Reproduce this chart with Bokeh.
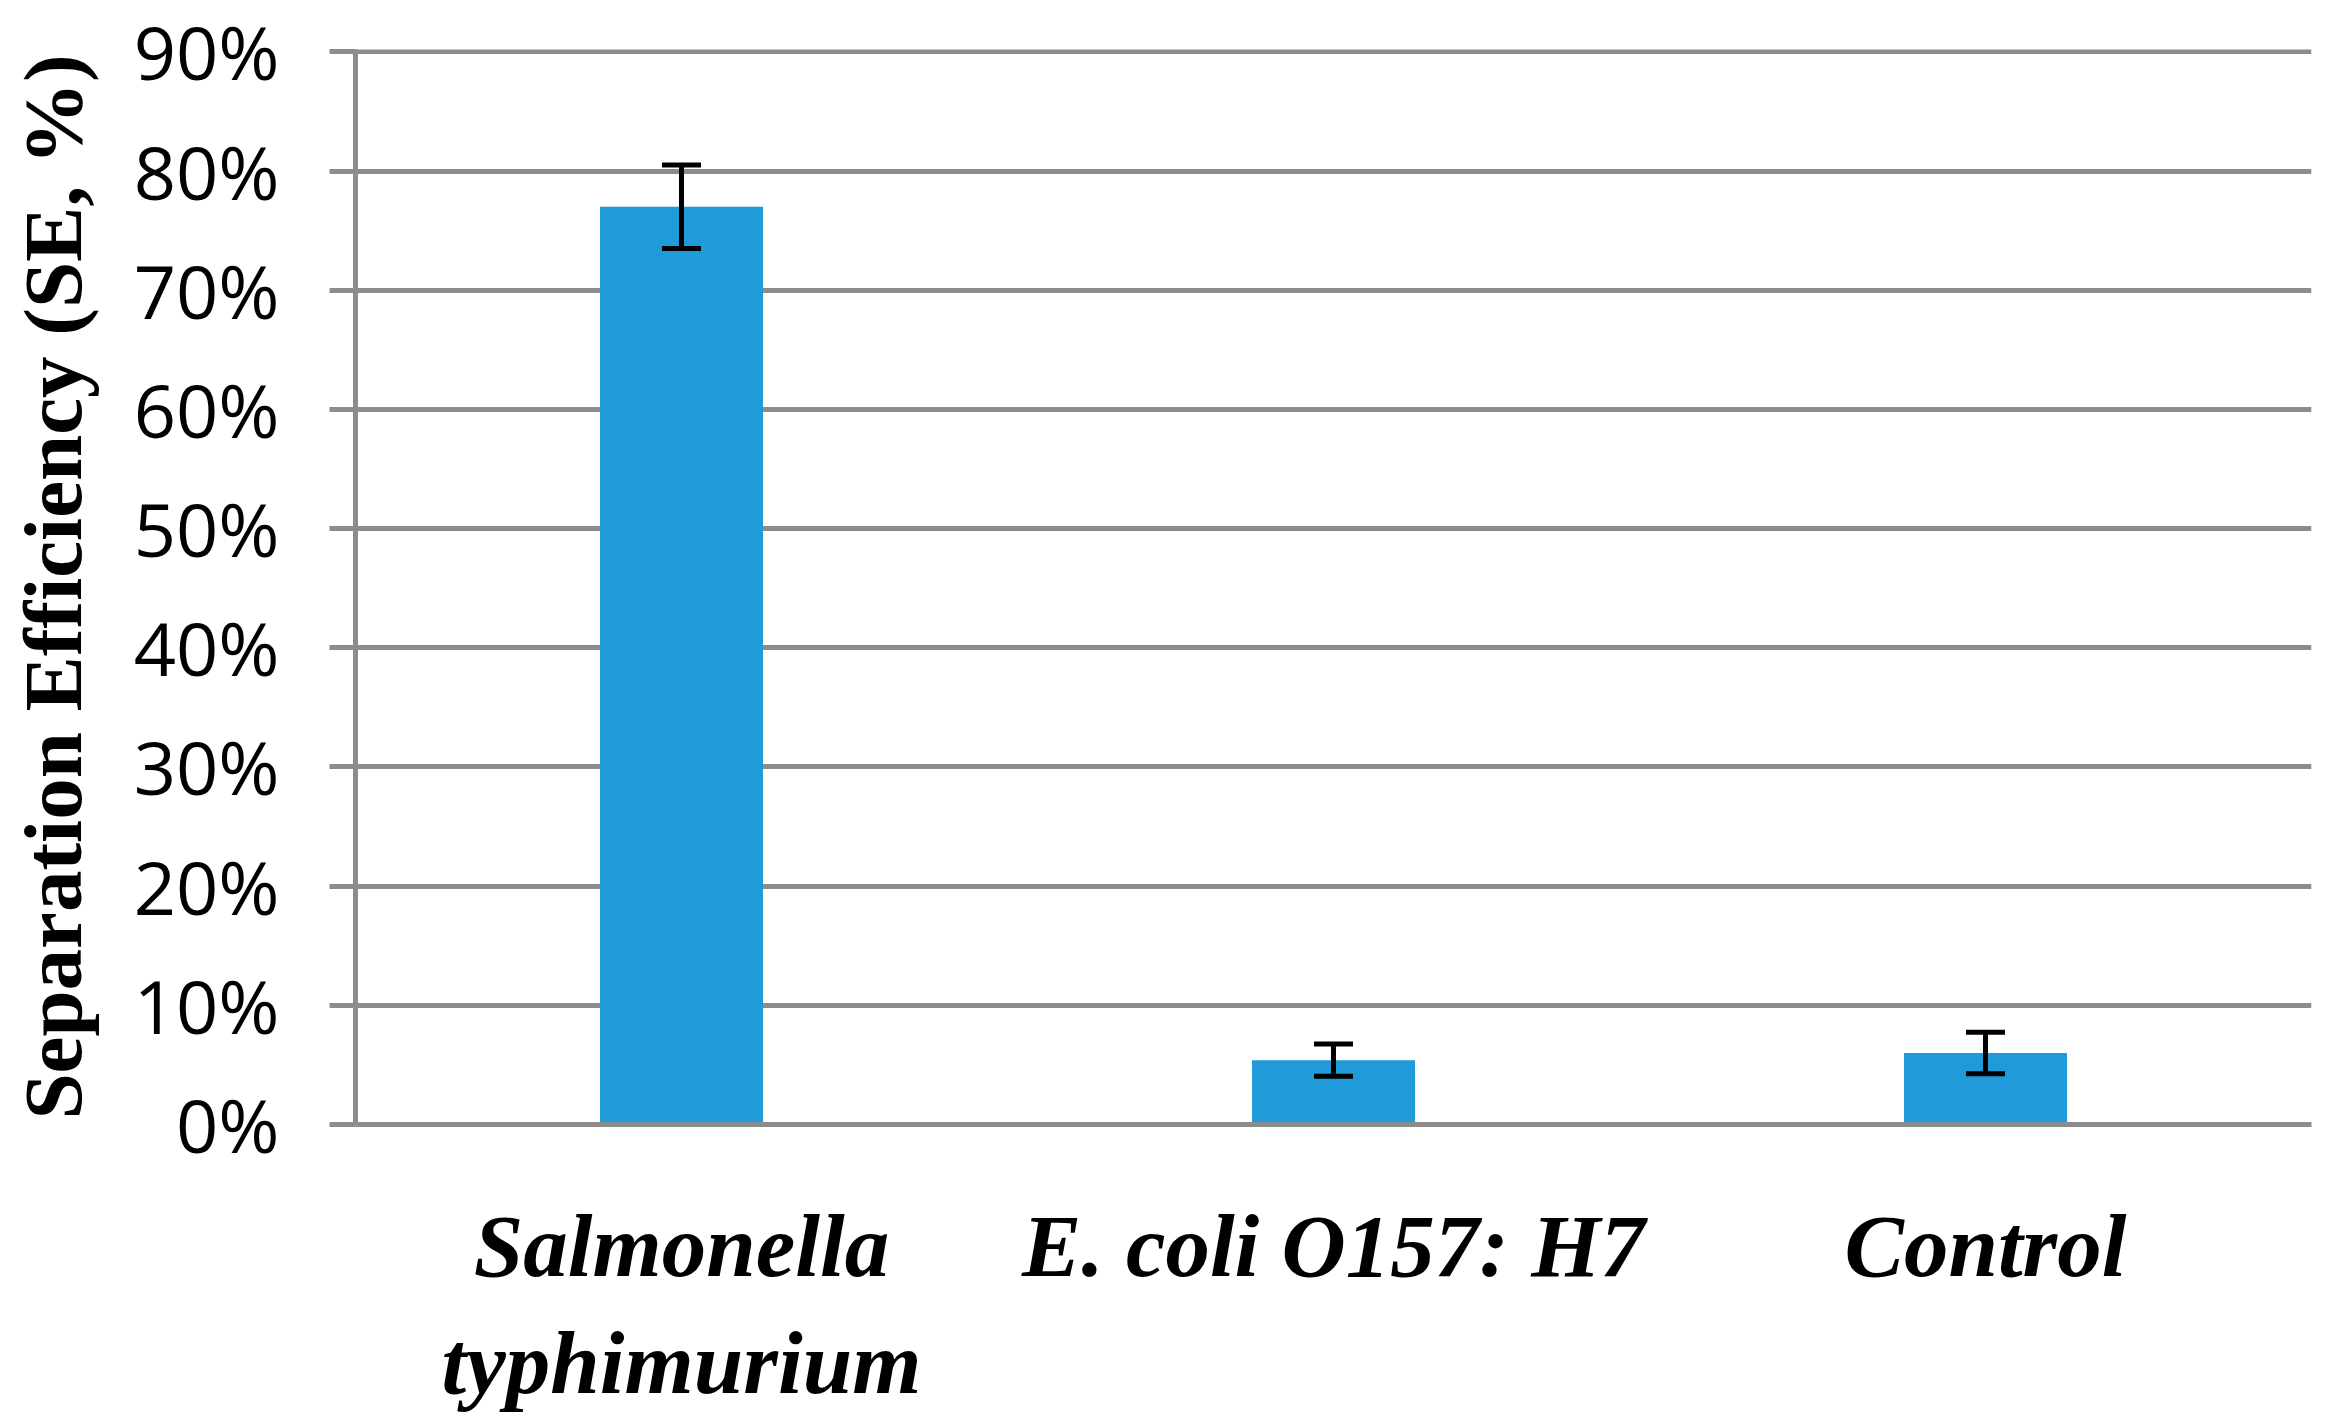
from bokeh.plotting import figure
from bokeh.models import ColumnDataSource, FactorRange, Range1d, Whisker, TeeHead, FixedTicker, NumeralTickFormatter
from bokeh.embed import file_html
from bokeh.resources import INLINE

categories = ["Salmonella\ntyphimurium", "E. coli O157: H7", "Control"]
values = [0.770, 0.054, 0.060]
errors = [0.035, 0.0135, 0.0175]
y_ticks = [0.0, 0.1, 0.2, 0.3, 0.4, 0.5, 0.6, 0.7, 0.8, 0.9]

lower = [v - e for v, e in zip(values, errors)]
upper = [v + e for v, e in zip(values, errors)]
src = ColumnDataSource(dict(cat=categories, val=values, lower=lower, upper=upper))

GRAY = "#8c8c8c"

p = figure(x_range=FactorRange(*categories), y_range=Range1d(0, 0.902),
           frame_width=1956, frame_height=1075, output_backend="svg", toolbar_location=None,
           min_border_left=355, min_border_right=12, min_border_top=49, min_border_bottom=240)
p.outline_line_color = None

p.vbar(x="cat", top="val", width=0.25, source=src, fill_color="#1e9bd8", line_color=None)

w = Whisker(base="cat", lower="lower", upper="upper", source=src, level="overlay",
            line_color="black", line_width=5,
            lower_head=TeeHead(size=39, line_color="black", line_width=5),
            upper_head=TeeHead(size=39, line_color="black", line_width=5))
p.add_layout(w)

p.xgrid.grid_line_color = None
p.ygrid.grid_line_color = GRAY
p.ygrid.grid_line_width = 5
p.ygrid.ticker = FixedTicker(ticks=y_ticks)

p.yaxis.ticker = FixedTicker(ticks=y_ticks)
p.yaxis.formatter = NumeralTickFormatter(format="0%")
p.yaxis.axis_line_color = GRAY
p.yaxis.axis_line_width = 5
p.yaxis.major_tick_line_color = GRAY
p.yaxis.major_tick_line_width = 5
p.yaxis.major_tick_out = 26
p.yaxis.major_tick_in = 0
p.yaxis.minor_tick_line_color = None
p.yaxis.major_label_text_font = "Open Sans"
p.yaxis.major_label_text_font_size = "74px"
p.yaxis.major_label_text_color = "black"
p.yaxis.major_label_standoff = 50
p.yaxis.axis_label = "Separation Efficiency (SE, %)"
p.yaxis.axis_label_text_font = "Liberation Serif"
p.yaxis.axis_label_text_font_style = "bold"
p.yaxis.axis_label_text_font_size = "83px"
p.yaxis.axis_label_text_color = "black"
p.yaxis.axis_label_standoff = 32

p.xaxis.axis_line_color = GRAY
p.xaxis.axis_line_width = 5
p.xaxis.major_tick_line_color = None
p.xaxis.minor_tick_line_color = None
p.xaxis.major_label_text_font = "Liberation Serif"
p.xaxis.major_label_text_font_style = "bold italic"
p.xaxis.major_label_text_font_size = "89px"
p.xaxis.major_label_text_color = "black"
p.xaxis.major_label_standoff = 66

open("out.html", "w").write(file_html(p, INLINE))
